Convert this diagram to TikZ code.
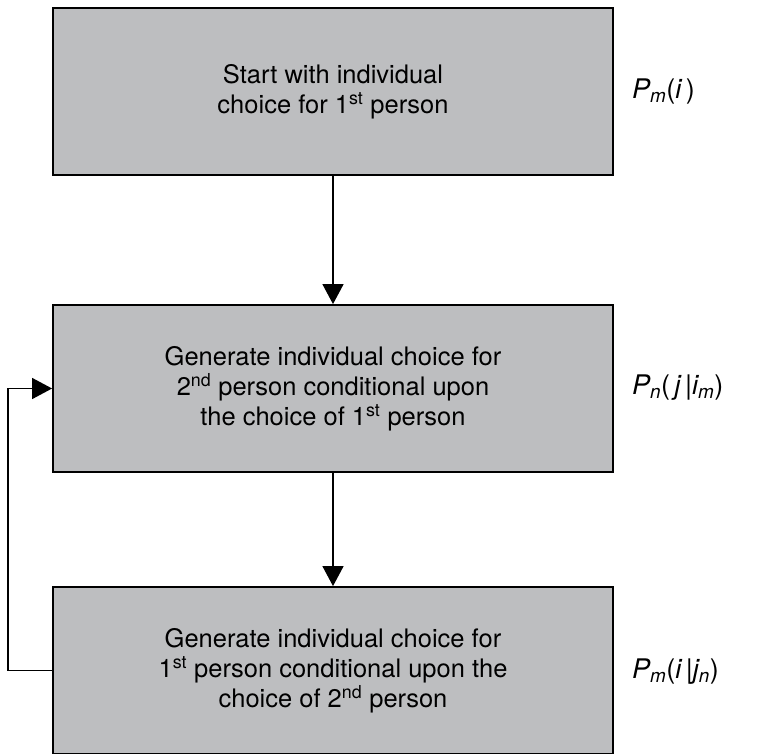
\documentclass[tikz,border=0pt]{standalone}
\usepackage{fontspec}
\setmainfont{TeX Gyre Heros}
\usetikzlibrary{arrows.meta}
\definecolor{boxgray}{RGB}{189,190,192}
\tikzset{
  flowbox/.style={draw=black, line width=1.8pt, fill=boxgray, minimum width=560pt, minimum height=167pt,
    align=center, inner sep=0pt, font=\fontsize{25.5}{30}\selectfont},
  plabel/.style={anchor=west, inner sep=0pt, font=\fontsize{27}{30}\selectfont},
  conn/.style={line width=1.3pt, -{Triangle[width=21pt,length=20pt]}}
}
\begin{document}
\begin{tikzpicture}[x=1pt,y=-1pt]
\useasboundingbox (0,0) rectangle (758,754);
\node[flowbox] (b1) at (333,91.5) {Start with individual\\choice for 1\textsuperscript{st} person};
\node[flowbox] (b2) at (333,388.5) {Generate individual choice for\\2\textsuperscript{nd} person conditional upon\\the choice of 1\textsuperscript{st} person};
\node[flowbox] (b3) at (333,670.5) {Generate individual choice for\\1\textsuperscript{st} person conditional upon the\\choice of 2\textsuperscript{nd} person};
\node[plabel] (l1) at (632,92) {\textit{P\textsubscript{m}}(\textit{i\,})};
\node[plabel] (l2) at (632,388) {\textit{P\textsubscript{n}}(\,\textit{j\,}|\textit{i\textsubscript{m}})};
\node[plabel] (l3) at (632,672) {\textit{P\textsubscript{m}}(\textit{i\,}|\textit{j\textsubscript{n}})};
\coordinate (c1) at (8,670.5);
\coordinate (c2) at (8,388.5);
\draw[conn] (b1.south) -- (b2.north);
\draw[conn] (b2.south) -- (b3.north);
\draw[conn] (b3.west) -- (c1) -- (c2) -- (b2.west);
\end{tikzpicture}
\end{document}
